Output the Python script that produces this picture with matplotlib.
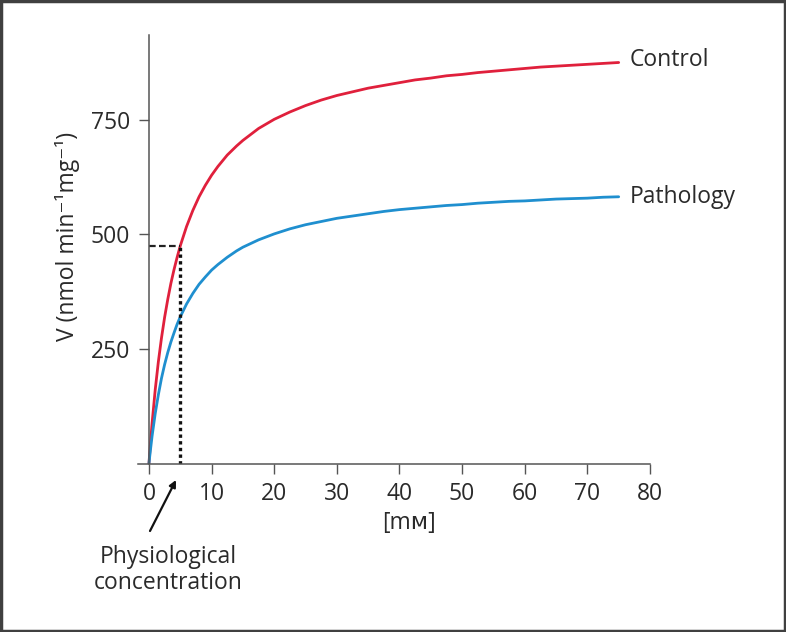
import matplotlib.pyplot as plt

# substrate concentration (mM) and velocities
conc = [0, 0.1, 0.25, 0.5, 1, 1.5, 2, 2.5, 3, 3.5, 4, 4.5, 5, 6, 7, 8, 9, 10,
        11, 12.5, 14, 15, 17.5, 20, 22.5, 25, 27.5, 30, 32.5, 35, 37.5, 40,
        42.5, 45, 47.5, 50, 52.5, 55, 57.5, 60, 62.5, 65, 67.5, 70, 72.5, 75]
v_control = [0, 19, 46, 88, 161, 222, 274, 319, 358, 393, 423, 450, 475, 517,
             552, 582, 607, 629, 648, 673, 693, 705, 731, 751, 767, 781, 793,
             803, 811, 819, 825, 831, 837, 841, 846, 849, 853, 856, 859, 862,
             865, 867, 869, 871, 873, 875]
v_pathology = [0, 13, 31, 60, 109, 150, 186, 216, 242, 265, 285, 304, 320, 348,
               371, 391, 407, 422, 434, 450, 464, 472, 488, 501, 512, 521, 528,
               535, 540, 545, 550, 554, 557, 560, 563, 565, 568, 570, 572, 573,
               575, 577, 578, 579, 581, 582]

phys_conc = 5
phys_v = 475

x_ticks = [0, 10, 20, 30, 40, 50, 60, 70, 80]
y_ticks = [250, 500, 750]

plt.rcParams['font.family'] = ['Open Sans', 'DejaVu Sans']

fig = plt.figure(figsize=(7.86, 6.32), dpi=100)
ax = fig.add_axes([138 / 786, 1 - 463.5 / 632, 512 / 786, (463.5 - 35) / 632])

axis_col = '#555555'
text_col = '#2a2a2a'
fs = 16.5

ax.plot(conc, v_control, color='#e0203c', lw=2.0, solid_capstyle='round')
ax.plot(conc, v_pathology, color='#1f8fcf', lw=2.0, solid_capstyle='round')

# physiological concentration guide lines
ax.plot([0, phys_conc], [phys_v, phys_v], color='#222222', lw=1.6,
        linestyle=(0, (3, 1.5)))
ax.plot([phys_conc, phys_conc], [0, phys_v], color='#111111', lw=2.4,
        linestyle=(0, (1, 1)))

ax.set_xlim(-1.75, 80)
ax.set_ylim(0, 935)
ax.spines['left'].set_position(('data', 0))
ax.spines['top'].set_visible(False)
ax.spines['right'].set_visible(False)
for s in ('left', 'bottom'):
    ax.spines[s].set_color(axis_col)
    ax.spines[s].set_linewidth(1.1)

ax.set_xticks(x_ticks)
ax.set_yticks(y_ticks)
ax.tick_params(axis='both', length=7.5, width=1.0, color=axis_col,
               labelsize=fs, labelcolor=text_col, pad=6)

ax.text(0.529, -0.14, '[mᴍ]', transform=ax.transAxes, ha='center',
        va='center', fontsize=fs, color=text_col)
fig.text(68 / 786, 1 - 236 / 632, 'V (nmol min⁻¹mg⁻¹)', rotation=90,
         ha='center', va='center', fontsize=fs, color=text_col)

# series labels at the line ends
ax.annotate('Control', xy=(conc[-1], v_control[-1]), xytext=(8, 2),
            textcoords='offset points', ha='left', va='center',
            fontsize=fs, color=text_col)
ax.annotate('Pathology', xy=(conc[-1], v_pathology[-1]), xytext=(8, 0),
            textcoords='offset points', ha='left', va='center',
            fontsize=fs, color=text_col)

# arrow + caption
ax.annotate('', xy=(176 / 786, 1 - 480 / 632), xycoords='figure fraction',
            xytext=(150 / 786, 1 - 531 / 632), textcoords='figure fraction',
            arrowprops=dict(arrowstyle='-|>', color='#111111', lw=1.6,
                            mutation_scale=10, shrinkA=0, shrinkB=0))
fig.text(168 / 786, 1 - 570 / 632, 'Physiological\nconcentration',
         ha='center', va='center', fontsize=fs, color=text_col,
         linespacing=1.1)

# outer frame
fig.patches.append(plt.Rectangle((0.0015, 0.002), 0.997, 0.996,
                                 transform=fig.transFigure, fill=False,
                                 edgecolor='#404040', lw=2.5))

fig.savefig('out.png', dpi=100)
